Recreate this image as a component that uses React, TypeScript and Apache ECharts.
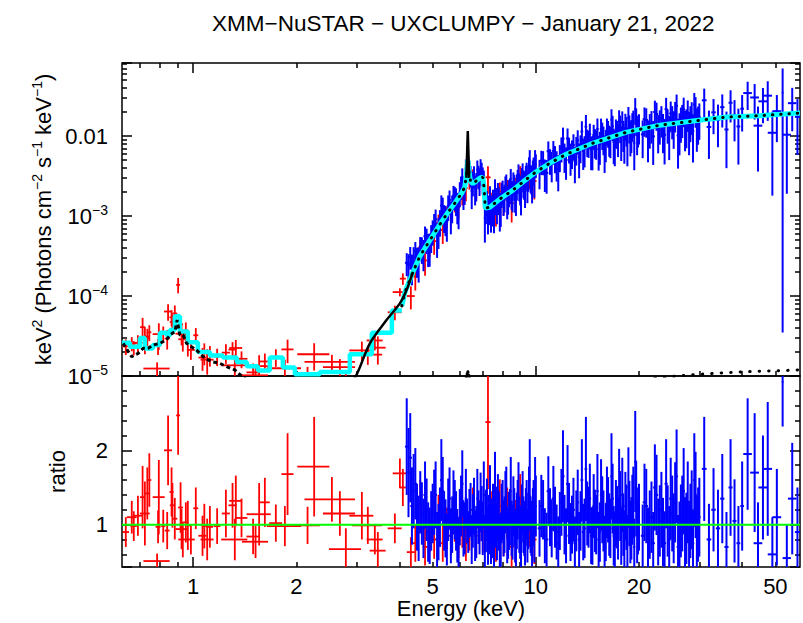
import React, { useEffect, useRef } from 'react';
import * as echarts from 'echarts';

const FONT = '"Liberation Sans", Arial, Helvetica, sans-serif';
const X_MIN = 0.62;
const X_MAX = 59;
const Y_MIN = 1e-5;
const Y_MAX = 0.082;
const R_MIN = 0.43;
const R_MAX = 3.0;

const titleText = 'XMM\u2212NuSTAR \u2212 UXCLUMPY \u2212 January 21, 2022';
const xLabelValues = [1, 2, 5, 10, 20, 50];
const xMajorTicks = [1, 10];

// ---------- XMM (red) spectrum ----------
const xmmE = [0.636, 0.662, 0.671, 0.690, 0.712, 0.723, 0.735, 0.745, 0.785, 0.790, 0.794, 0.818, 0.840, 0.845, 0.865, 0.870, 0.884, 0.904, 0.919, 0.925, 0.933, 0.952, 0.965, 0.985, 1.018, 1.065, 1.078, 1.099, 1.119, 1.175, 1.246, 1.303, 1.323, 1.332, 1.384, 1.496, 1.521, 1.558, 1.619, 1.743, 1.852, 1.886, 2.157, 2.255, 2.540, 2.680, 2.790, 3.107, 3.234, 3.390, 3.459, 3.878, 4.011, 4.092, 4.318,
  4.45, 4.60, 4.75, 4.90, 5.05, 5.20, 5.35, 5.50, 5.65, 5.80, 5.95, 6.10, 6.25, 6.40, 6.55, 6.70, 6.85, 7.00, 7.25, 7.45, 7.65, 7.85, 8.05, 8.25, 8.50, 8.75, 9.00, 9.30, 9.60, 9.90];
const xmmDE = [0.014, 0.022, 0.014, 0.023, 0.012, 0.024, 0.010, 0.010, 0.069, 0.013, 0.032, 0.011, 0.014, 0.023, 0.012, 0.015, 0.015, 0.012, 0.015, 0.037, 0.028, 0.016, 0.016, 0.026, 0.017, 0.029, 0.018, 0.048, 0.025, 0.026, 0.034, 0.035, 0.116, 0.058, 0.056, 0.065, 0.133, 0.126, 0.054, 0.076, 0.212, 0.076, 0.188, 0.242, 0.427, 0.288, 0.300, 0.251, 0.326, 0.182, 0.186, 0.182, 0.189, 0.083, 0.116,
  0.075, 0.075, 0.075, 0.075, 0.075, 0.075, 0.075, 0.075, 0.075, 0.075, 0.075, 0.075, 0.075, 0.075, 0.075, 0.075, 0.075, 0.075, 0.125, 0.100, 0.100, 0.100, 0.100, 0.100, 0.125, 0.125, 0.125, 0.150, 0.150, 0.150];
const xmmFlux = [2.35e-5, 2.55e-5, 2.27e-5, 2.60e-5, 4.08e-5, 2.99e-5, 3.12e-5, 3.52e-5, 1.24e-5, 2.37e-5, 3.34e-5, 3.40e-5, 2.94e-5, 6.40e-5, 5.41e-5, 4.74e-5, 6.05e-5, 1.38e-4, 4.43e-5, 3.38e-5, 2.88e-5, 3.71e-5, 2.62e-5, 2.12e-5, 3.23e-5, 1.70e-5, 1.96e-5, 1.60e-5, 1.84e-5, 1.76e-5, 1.96e-5, 2.14e-5, 1.36e-5, 2.24e-5, 1.64e-5, 1.11e-5, 1.02e-5, 1.33e-5, 1.52e-5, 1.73e-5, 1.25e-5, 2.15e-5, 1.04e-5, 1.87e-5, 1.50e-5, 1.29e-5, 7.5e-6, 2.09e-5, 1.85e-5, 2.78e-5, 2.26e-5, 6.27e-5, 1.12e-4, 1.65e-4, 1.00e-4,
  1.75e-4, 3.98e-4, 2.79e-4, 4.44e-4, 4.86e-4, 8.20e-4, 6.70e-4, 1.01e-3, 1.05e-3, 1.52e-3, 1.36e-3, 1.87e-3, 2.25e-3, 2.97e-3, 3.06e-3, 2.34e-3, 3.10e-3, 2.78e-3, 3.05e-3, 1.49e-3, 1.18e-3, 2.04e-3, 1.58e-3, 2.17e-3, 1.45e-3, 2.27e-3, 3.26e-3, 2.38e-3, 3.26e-3, 2.74e-3];
const xmmFluxErr = [5.2e-6, 5.1e-6, 4.6e-6, 6.3e-6, 1.25e-5, 1.12e-5, 7.7e-6, 7.9e-6, 2.4e-6, 5.4e-6, 1.22e-5, 7.6e-6, 8.0e-6, 1.50e-5, 1.24e-5, 1.13e-5, 1.57e-5, 3.0e-5, 1.22e-5, 9.7e-6, 8.6e-6, 9.7e-6, 8.7e-6, 5.3e-6, 7.4e-6, 5.4e-6, 6.0e-6, 5.6e-6, 5.3e-6, 4.3e-6, 5.4e-6, 5.1e-6, 4.8e-6, 5.8e-6, 3.9e-6, 3.2e-6, 2.9e-6, 4.9e-6, 3.9e-6, 4.3e-6, 3.5e-6, 7.0e-6, 2.6e-6, 7.0e-6, 3.4e-6, 3.4e-6, 3.1e-6, 6.0e-6, 4.7e-6, 6.9e-6, 8.7e-6, 1.3e-5, 1.3e-5, 2.7e-5, 3.2e-5,
  5.8e-5, 1.11e-4, 1.00e-4, 1.33e-4, 1.58e-4, 2.24e-4, 2.23e-4, 2.97e-4, 3.20e-4, 4.10e-4, 4.25e-4, 5.10e-4, 7.20e-4, 8.30e-4, 7.70e-4, 7.20e-4, 8.30e-4, 8.70e-4, 1.15e-3, 4.70e-4, 4.40e-4, 5.90e-4, 5.60e-4, 6.60e-4, 6.20e-4, 7.50e-4, 9.50e-4, 9.00e-4, 1.09e-3, 1.13e-3];
const xmmRatio = [0.90, 1.10, 0.98, 1.12, 1.37, 1.15, 1.42, 1.60, 0.51, 0.97, 1.37, 0.98, 0.92, 2.00, 1.44, 1.26, 1.08, 2.47, 1.23, 0.94, 0.80, 1.03, 0.99, 0.80, 1.22, 0.85, 0.98, 0.80, 0.97, 0.98, 1.15, 1.26, 0.80, 1.32, 1.09, 0.84, 0.77, 1.14, 1.30, 1.02, 0.98, 1.68, 0.99, 1.78, 1.34, 1.15, 0.67, 1.12, 0.99, 0.80, 0.65, 0.95, 1.69, 1.50, 0.63,
  0.75, 1.25, 0.70, 0.90, 0.80, 1.10, 0.75, 0.95, 0.85, 1.05, 0.80, 0.95, 0.75, 0.90, 1.20, 0.85, 1.05, 0.90, 2.38, 1.10, 0.80, 1.25, 0.90, 1.15, 0.70, 1.00, 1.30, 0.85, 1.05, 0.80];
const xmmRatioErr = [0.20, 0.22, 0.20, 0.27, 0.42, 0.43, 0.35, 0.36, 0.10, 0.22, 0.50, 0.22, 0.25, 0.47, 0.33, 0.30, 0.28, 0.53, 0.34, 0.27, 0.24, 0.27, 0.33, 0.20, 0.28, 0.27, 0.30, 0.28, 0.28, 0.24, 0.32, 0.30, 0.28, 0.34, 0.26, 0.24, 0.22, 0.42, 0.33, 0.25, 0.27, 0.55, 0.25, 0.67, 0.30, 0.30, 0.28, 0.32, 0.25, 0.20, 0.25, 0.20, 0.20, 0.25, 0.20,
  0.25, 0.35, 0.25, 0.27, 0.26, 0.30, 0.25, 0.28, 0.26, 0.28, 0.25, 0.26, 0.24, 0.25, 0.30, 0.26, 0.28, 0.28, 0.90, 0.35, 0.30, 0.36, 0.32, 0.35, 0.30, 0.33, 0.38, 0.32, 0.35, 0.33];

// ---------- NuSTAR FPMA (blue) spectrum ----------
const nuE = [4.2, 4.3, 4.4, 4.5, 4.6, 4.7, 4.8, 4.9, 5.0, 5.1, 5.2, 5.3, 5.4, 5.5, 5.6, 5.7, 5.8, 5.9, 6.0, 6.1, 6.2, 6.3, 6.4, 6.5, 6.6, 6.7, 6.8, 6.9, 7.0, 7.1, 7.2, 7.3, 7.4, 7.5, 7.6, 7.7, 7.8, 7.9, 8.0, 8.1, 8.2, 8.3, 8.4, 8.5, 8.6, 8.7, 8.8, 8.9, 9.0, 9.1, 9.2, 9.3, 9.4, 9.5, 9.6, 9.7, 9.8, 9.9, 10.0,
  10.25, 10.5, 10.75, 11.0, 11.25, 11.5, 11.75, 12.0, 12.25, 12.5, 12.75, 13.0, 13.25, 13.5, 13.75, 14.0, 14.25, 14.5, 14.75, 15.0, 15.25, 15.5, 15.75, 16.0, 16.25, 16.5, 16.75, 17.0, 17.25, 17.5, 17.75, 18.0, 18.25, 18.5, 18.75, 19.0, 19.25, 19.5, 19.75, 20.0,
  20.5, 21, 21.5, 22, 22.5, 23, 23.5, 24, 24.5, 25, 25.5, 26, 26.5, 27, 27.5, 28, 28.5, 29, 29.5, 30,
  31, 32, 33, 34, 35, 36, 37, 38, 39, 40,
  41.5, 43.5, 44.5, 46, 47.5, 49, 50.5, 52.5, 54, 56, 58];
const nuDE = [0.05, 0.05, 0.05, 0.05, 0.05, 0.05, 0.05, 0.05, 0.05, 0.05, 0.05, 0.05, 0.05, 0.05, 0.05, 0.05, 0.05, 0.05, 0.05, 0.05, 0.05, 0.05, 0.05, 0.05, 0.05, 0.05, 0.05, 0.05, 0.05, 0.05, 0.05, 0.05, 0.05, 0.05, 0.05, 0.05, 0.05, 0.05, 0.05, 0.05, 0.05, 0.05, 0.05, 0.05, 0.05, 0.05, 0.05, 0.05, 0.05, 0.05, 0.05, 0.05, 0.05, 0.05, 0.05, 0.05, 0.05, 0.05, 0.05,
  0.125, 0.125, 0.125, 0.125, 0.125, 0.125, 0.125, 0.125, 0.125, 0.125, 0.125, 0.125, 0.125, 0.125, 0.125, 0.125, 0.125, 0.125, 0.125, 0.125, 0.125, 0.125, 0.125, 0.125, 0.125, 0.125, 0.125, 0.125, 0.125, 0.125, 0.125, 0.125, 0.125, 0.125, 0.125, 0.125, 0.125, 0.125, 0.125, 0.125,
  0.25, 0.25, 0.25, 0.25, 0.25, 0.25, 0.25, 0.25, 0.25, 0.25, 0.25, 0.25, 0.25, 0.25, 0.25, 0.25, 0.25, 0.25, 0.25, 0.25,
  0.5, 0.5, 0.5, 0.5, 0.5, 0.5, 0.5, 0.5, 0.5, 0.5,
  1.2, 1.3, 1.3, 1.4, 1.4, 1.5, 1.5, 0.3, 1.5, 1.6, 1.0];
const nuFlux = [2.60e-4, 3.12e-4, 3.03e-4, 2.86e-4, 4.13e-4, 3.53e-4, 5.15e-4, 4.19e-4, 6.54e-4, 9.13e-4, 6.71e-4, 1.35e-3, 9.91e-4, 8.48e-4, 1.59e-3, 1.31e-3, 1.74e-3, 1.37e-3, 1.97e-3, 3.05e-3, 2.19e-3, 4.52e-3, 3.80e-3, 2.08e-3, 3.21e-3, 2.48e-3, 3.21e-3, 3.93e-3, 2.94e-3, 9.45e-4, 1.52e-3, 1.29e-3, 1.13e-3, 1.59e-3, 2.18e-3, 1.36e-3, 1.66e-3, 1.33e-3, 2.08e-3, 1.79e-3, 2.51e-3, 1.73e-3, 2.19e-3, 1.97e-3, 2.66e-3, 1.90e-3, 2.44e-3, 3.37e-3, 2.26e-3, 2.99e-3, 2.70e-3, 2.24e-3, 3.48e-3, 3.15e-3, 4.96e-3, 3.05e-3, 3.65e-3, 2.92e-3, 4.44e-3,
  3.60e-3, 4.86e-3, 3.46e-3, 5.06e-3, 6.53e-3, 4.58e-3, 5.63e-3, 9.27e-3, 5.02e-3, 7.05e-3, 6.35e-3, 4.94e-3, 8.84e-3, 7.38e-3, 6.53e-3, 1.31e-2, 8.50e-3, 6.78e-3, 1.03e-2, 8.41e-3, 6.89e-3, 1.23e-2, 9.46e-3, 8.29e-3, 1.13e-2, 9.14e-3, 1.33e-2, 8.00e-3, 1.12e-2, 1.56e-2, 9.01e-3, 1.09e-2, 1.39e-2, 8.48e-3, 1.31e-2, 1.10e-2, 1.52e-2, 2.18e-2, 1.08e-2, 1.33e-2,
  1.05e-2, 1.59e-2, 1.29e-2, 9.90e-3, 1.89e-2, 1.44e-2, 1.25e-2, 2.17e-2, 1.14e-2, 1.64e-2, 1.89e-2, 1.02e-2, 1.55e-2, 2.16e-2, 1.43e-2, 1.29e-2, 1.84e-2, 2.48e-2, 1.40e-2, 1.73e-2,
  2.80e-2, 1.30e-2, 1.98e-2, 1.60e-2, 2.30e-2, 1.21e-2, 2.61e-2, 1.84e-2, 1.32e-2, 2.20e-2,
  3.45e-2, 3.04e-2, 1.35e-2, 2.72e-2, 3.20e-2, 1.10e-2, 2.05e-2, 3.50e-2, 1.04e-2, 2.58e-2, 1.74e-2];
const nuFluxErr = [8.3e-5, 9.8e-5, 1.05e-4, 1.17e-4, 1.34e-4, 1.49e-4, 1.80e-4, 1.87e-4, 2.28e-4, 2.93e-4, 2.83e-4, 4.63e-4, 3.78e-4, 3.71e-4, 4.96e-4, 4.98e-4, 5.8e-4, 5.8e-4, 6.8e-4, 8.9e-4, 8.1e-4, 1.29e-3, 1.09e-3, 8.6e-4, 9.8e-4, 9.6e-4, 1.05e-3, 1.21e-3, 1.11e-3, 4.8e-4, 5.3e-4, 5.2e-4, 5.1e-4, 5.5e-4, 7.0e-4, 5.7e-4, 6.3e-4, 6.0e-4, 6.9e-4, 6.8e-4, 8.0e-4, 6.9e-4, 7.6e-4, 7.7e-4, 8.5e-4, 8.0e-4, 8.8e-4, 1.06e-3, 9.0e-4, 1.01e-3, 1.03e-3, 9.8e-4, 1.16e-3, 1.14e-3, 1.71e-3, 1.19e-3, 1.29e-3, 1.23e-3, 1.46e-3,
  1.44e-3, 1.62e-3, 1.56e-3, 1.79e-3, 2.13e-3, 1.88e-3, 2.09e-3, 3.48e-3, 2.18e-3, 2.51e-3, 2.48e-3, 2.37e-3, 2.99e-3, 2.81e-3, 2.76e-3, 5.25e-3, 3.17e-3, 3.03e-3, 3.53e-3, 3.36e-3, 3.19e-3, 4.23e-3, 3.69e-3, 3.59e-3, 4.14e-3, 3.85e-3, 4.62e-3, 3.80e-3, 4.28e-3, 5.41e-3, 4.13e-3, 4.58e-3, 5.11e-3, 4.29e-3, 5.02e-3, 4.87e-3, 5.62e-3, 8.02e-3, 5.04e-3, 5.45e-3,
  5.21e-3, 6.35e-3, 5.93e-3, 5.54e-3, 7.29e-3, 6.58e-3, 6.39e-3, 8.40e-3, 6.39e-3, 7.29e-3, 7.83e-3, 6.28e-3, 7.25e-3, 8.64e-3, 7.25e-3, 7.14e-3, 8.11e-3, 9.77e-3, 7.64e-3, 8.32e-3,
  1.12e-2, 7.82e-3, 9.24e-3, 8.74e-3, 1.02e-2, 8.13e-3, 1.13e-2, 9.80e-3, 8.80e-3, 1.06e-2,
  1.33e-2, 1.43e-2, 9.9e-3, 1.27e-2, 1.65e-2, 9.2e-3, 1.21e-2, 3.50e-2, 8.5e-3, 1.43e-2, 1.16e-2];
const nuRatio = [2.05, 1.90, 1.45, 1.10, 1.30, 0.95, 1.20, 0.85, 1.15, 1.40, 0.90, 1.60, 1.05, 0.80, 1.35, 1.00, 1.20, 0.85, 1.10, 1.55, 0.95, 1.05, 1.15, 0.80, 1.25, 0.90, 1.10, 1.30, 0.95, 0.75, 1.20, 1.00, 0.85, 1.15, 1.50, 0.90, 1.05, 0.80, 1.20, 1.00, 1.35, 0.90, 1.10, 0.95, 1.25, 0.85, 1.05, 1.40, 0.90, 1.15, 1.00, 0.80, 1.20, 1.05, 1.60, 0.95, 1.10, 0.85, 1.25,
  0.95, 1.20, 0.80, 1.10, 1.35, 0.90, 1.05, 1.65, 0.85, 1.15, 1.00, 0.75, 1.30, 1.05, 0.90, 1.75, 1.10, 0.85, 1.25, 1.00, 0.80, 1.40, 1.05, 0.90, 1.20, 0.95, 1.35, 0.80, 1.10, 1.50, 0.85, 1.00, 1.25, 0.75, 1.15, 0.95, 1.30, 1.85, 0.90, 1.10,
  0.85, 1.25, 1.00, 0.75, 1.40, 1.05, 0.90, 1.55, 0.80, 1.15, 1.30, 0.70, 1.05, 1.45, 0.95, 0.85, 1.20, 1.60, 0.90, 1.10,
  1.75, 0.80, 1.20, 0.95, 1.35, 0.70, 1.50, 1.05, 0.75, 1.25,
  1.95, 1.70, 0.75, 1.50, 1.75, 0.60, 1.10, 2.92, 0.55, 1.35, 0.90];
const nuRatioErr = [0.65, 0.60, 0.50, 0.45, 0.42, 0.40, 0.42, 0.38, 0.40, 0.45, 0.38, 0.55, 0.40, 0.35, 0.42, 0.38, 0.40, 0.36, 0.38, 0.45, 0.35, 0.30, 0.33, 0.33, 0.38, 0.35, 0.36, 0.40, 0.36, 0.38, 0.42, 0.40, 0.38, 0.40, 0.48, 0.38, 0.40, 0.36, 0.40, 0.38, 0.43, 0.36, 0.38, 0.37, 0.40, 0.36, 0.38, 0.44, 0.36, 0.39, 0.38, 0.35, 0.40, 0.38, 0.55, 0.37, 0.39, 0.36, 0.41,
  0.38, 0.40, 0.36, 0.39, 0.44, 0.37, 0.39, 0.62, 0.37, 0.41, 0.39, 0.36, 0.44, 0.40, 0.38, 0.70, 0.41, 0.38, 0.43, 0.40, 0.37, 0.48, 0.41, 0.39, 0.44, 0.40, 0.47, 0.38, 0.42, 0.52, 0.39, 0.42, 0.46, 0.38, 0.44, 0.42, 0.48, 0.68, 0.42, 0.45,
  0.42, 0.50, 0.46, 0.42, 0.54, 0.48, 0.46, 0.60, 0.45, 0.51, 0.54, 0.43, 0.49, 0.58, 0.48, 0.47, 0.53, 0.63, 0.49, 0.53,
  0.70, 0.48, 0.56, 0.52, 0.60, 0.47, 0.65, 0.56, 0.50, 0.60,
  0.75, 0.80, 0.55, 0.70, 0.90, 0.50, 0.65, 0.60, 0.45, 0.75, 0.60];

// ---------- NuSTAR FPMB (blue) spectrum ----------
const nubE = [4.25, 4.35, 4.45, 4.55, 4.65, 4.75, 4.85, 4.95, 5.05, 5.15, 5.25, 5.35, 5.45, 5.55, 5.65, 5.75, 5.85, 5.95, 6.05, 6.15, 6.25, 6.35, 6.45, 6.55, 6.65, 6.75, 6.85, 6.95, 7.05, 7.15, 7.25, 7.35, 7.45, 7.55, 7.65, 7.75, 7.85, 7.95, 8.05, 8.15, 8.25, 8.35, 8.45, 8.55, 8.65, 8.75, 8.85, 8.95, 9.05, 9.15, 9.25, 9.35, 9.45, 9.55, 9.65, 9.75, 9.85, 9.95,
  10.375, 10.625, 10.875, 11.125, 11.375, 11.625, 11.875, 12.125, 12.375, 12.625, 12.875, 13.125, 13.375, 13.625, 13.875, 14.125, 14.375, 14.625, 14.875, 15.125, 15.375, 15.625, 15.875, 16.125, 16.375, 16.625, 16.875, 17.125, 17.375, 17.625, 17.875, 18.125, 18.375, 18.625, 18.875, 19.125, 19.375, 19.625, 19.875,
  20.75, 21.25, 21.75, 22.25, 22.75, 23.25, 23.75, 24.25, 24.75, 25.25, 25.75, 26.25, 26.75, 27.25, 27.75, 28.25, 28.75, 29.25, 29.75];
const nubDE = [0.05, 0.05, 0.05, 0.05, 0.05, 0.05, 0.05, 0.05, 0.05, 0.05, 0.05, 0.05, 0.05, 0.05, 0.05, 0.05, 0.05, 0.05, 0.05, 0.05, 0.05, 0.05, 0.05, 0.05, 0.05, 0.05, 0.05, 0.05, 0.05, 0.05, 0.05, 0.05, 0.05, 0.05, 0.05, 0.05, 0.05, 0.05, 0.05, 0.05, 0.05, 0.05, 0.05, 0.05, 0.05, 0.05, 0.05, 0.05, 0.05, 0.05, 0.05, 0.05, 0.05, 0.05, 0.05, 0.05, 0.05, 0.05,
  0.125, 0.125, 0.125, 0.125, 0.125, 0.125, 0.125, 0.125, 0.125, 0.125, 0.125, 0.125, 0.125, 0.125, 0.125, 0.125, 0.125, 0.125, 0.125, 0.125, 0.125, 0.125, 0.125, 0.125, 0.125, 0.125, 0.125, 0.125, 0.125, 0.125, 0.125, 0.125, 0.125, 0.125, 0.125, 0.125, 0.125, 0.125, 0.125,
  0.25, 0.25, 0.25, 0.25, 0.25, 0.25, 0.25, 0.25, 0.25, 0.25, 0.25, 0.25, 0.25, 0.25, 0.25, 0.25, 0.25, 0.25, 0.25];
const nubFlux = [2.47e-4, 2.33e-4, 3.61e-4, 2.74e-4, 3.97e-4, 5.60e-4, 4.14e-4, 5.57e-4, 7.93e-4, 5.58e-4, 8.69e-4, 1.29e-3, 9.50e-4, 1.34e-3, 1.05e-3, 1.79e-3, 1.61e-3, 1.28e-3, 2.35e-3, 1.98e-3, 3.92e-3, 4.14e-3, 3.24e-3, 2.68e-3, 2.26e-3, 3.82e-3, 2.82e-3, 3.51e-3, 2.80e-3, 1.32e-3, 1.09e-3, 1.77e-3, 1.28e-3, 1.13e-3, 1.63e-3, 1.93e-3, 1.22e-3, 1.94e-3, 1.67e-3, 2.37e-3, 1.61e-3, 2.05e-3, 2.94e-3, 1.89e-3, 2.40e-3, 1.82e-3, 2.83e-3, 2.46e-3, 1.91e-3, 3.45e-3, 2.61e-3, 3.14e-3, 2.51e-3, 4.12e-3, 3.15e-3, 2.61e-3, 4.04e-3, 5.06e-3,
  4.90e-3, 3.55e-3, 6.47e-3, 4.48e-3, 5.46e-3, 3.92e-3, 7.14e-3, 5.76e-3, 9.32e-3, 5.62e-3, 7.75e-3, 7.02e-3, 5.53e-3, 1.14e-2, 7.01e-3, 8.75e-3, 1.06e-2, 6.89e-3, 8.73e-3, 1.23e-2, 7.84e-3, 1.07e-2, 6.83e-3, 1.21e-2, 9.52e-3, 1.60e-2, 8.42e-3, 1.16e-2, 9.79e-3, 1.31e-2, 1.50e-2, 8.80e-3, 1.23e-2, 1.70e-2, 1.04e-2, 1.39e-2, 8.19e-3, 1.61e-2, 1.26e-2,
  1.63e-2, 1.02e-2, 1.43e-2, 2.00e-2, 1.22e-2, 1.66e-2, 1.04e-2, 1.48e-2, 1.92e-2, 1.37e-2, 2.39e-2, 1.25e-2, 1.70e-2, 1.35e-2, 1.96e-2, 1.60e-2, 1.16e-2, 2.17e-2, 1.56e-2];
const nubFluxErr = [8.7e-5, 9.7e-5, 1.12e-4, 1.27e-4, 1.45e-4, 1.80e-4, 1.84e-4, 2.12e-4, 2.68e-4, 2.58e-4, 3.16e-4, 4.09e-4, 3.90e-4, 4.70e-4, 4.59e-4, 5.93e-4, 6.12e-4, 5.95e-4, 7.71e-4, 7.90e-4, 1.16e-3, 1.29e-3, 9.70e-4, 9.20e-4, 9.00e-4, 1.13e-3, 1.04e-3, 1.13e-3, 9.00e-4, 5.30e-4, 5.00e-4, 5.90e-4, 5.40e-4, 5.20e-4, 6.10e-4, 6.60e-4, 5.80e-4, 6.80e-4, 6.70e-4, 7.60e-4, 7.00e-4, 7.60e-4, 9.30e-4, 7.80e-4, 8.50e-4, 8.20e-4, 9.40e-4, 9.30e-4, 8.90e-4, 1.11e-3, 1.02e-3, 1.11e-3, 1.06e-3, 1.31e-3, 1.20e-3, 1.17e-3, 1.35e-3, 1.61e-3,
  1.65e-3, 1.55e-3, 2.10e-3, 1.84e-3, 2.03e-3, 1.88e-3, 2.47e-3, 2.30e-3, 3.13e-3, 2.43e-3, 2.78e-3, 2.74e-3, 2.56e-3, 3.93e-3, 2.95e-3, 3.27e-3, 3.69e-3, 3.16e-3, 3.49e-3, 4.26e-3, 3.48e-3, 4.01e-3, 3.37e-3, 4.47e-3, 4.00e-3, 5.64e-3, 3.96e-3, 4.55e-3, 4.33e-3, 4.94e-3, 5.35e-3, 4.29e-3, 4.93e-3, 6.10e-3, 4.83e-3, 5.45e-3, 4.45e-3, 6.07e-3, 5.40e-3,
  6.50e-3, 5.50e-3, 6.24e-3, 7.71e-3, 6.12e-3, 7.04e-3, 5.98e-3, 6.77e-3, 7.81e-3, 6.77e-3, 9.14e-3, 6.76e-3, 7.55e-3, 7.05e-3, 8.31e-3, 7.60e-3, 6.93e-3, 8.99e-3, 7.80e-3];
const nubRatio = [1.70, 1.25, 1.55, 0.95, 1.15, 1.40, 0.90, 1.05, 1.30, 0.80, 1.10, 1.45, 0.95, 1.20, 0.85, 1.30, 1.05, 0.75, 1.25, 0.95, 1.35, 0.90, 1.20, 1.05, 0.85, 1.35, 0.95, 1.15, 1.40, 1.05, 0.85, 1.35, 0.95, 0.80, 1.10, 1.25, 0.75, 1.15, 0.95, 1.30, 0.85, 1.05, 1.45, 0.90, 1.10, 0.80, 1.20, 1.00, 0.75, 1.30, 0.95, 1.10, 0.85, 1.35, 1.00, 0.80, 1.20, 1.45,
  1.25, 0.85, 1.45, 0.95, 1.10, 0.75, 1.30, 1.00, 1.55, 0.90, 1.20, 1.05, 0.80, 1.60, 0.95, 1.15, 1.35, 0.85, 1.05, 1.45, 0.90, 1.20, 0.75, 1.30, 1.00, 1.65, 0.85, 1.15, 0.95, 1.25, 1.40, 0.80, 1.10, 1.50, 0.90, 1.20, 0.70, 1.35, 1.05,
  1.30, 0.80, 1.10, 1.50, 0.90, 1.20, 0.75, 1.05, 1.35, 0.95, 1.65, 0.85, 1.15, 0.90, 1.30, 1.05, 0.75, 1.40, 1.00];
const nubRatioErr = [0.60, 0.52, 0.48, 0.44, 0.42, 0.45, 0.40, 0.40, 0.44, 0.37, 0.40, 0.46, 0.39, 0.42, 0.37, 0.43, 0.40, 0.35, 0.41, 0.38, 0.40, 0.28, 0.36, 0.36, 0.34, 0.40, 0.35, 0.37, 0.45, 0.42, 0.39, 0.45, 0.40, 0.37, 0.41, 0.43, 0.36, 0.40, 0.38, 0.42, 0.37, 0.39, 0.46, 0.37, 0.39, 0.36, 0.40, 0.38, 0.35, 0.42, 0.37, 0.39, 0.36, 0.43, 0.38, 0.36, 0.40, 0.46,
  0.42, 0.37, 0.47, 0.39, 0.41, 0.36, 0.45, 0.40, 0.52, 0.39, 0.43, 0.41, 0.37, 0.55, 0.40, 0.43, 0.47, 0.39, 0.42, 0.50, 0.40, 0.45, 0.37, 0.48, 0.42, 0.58, 0.40, 0.45, 0.42, 0.47, 0.50, 0.39, 0.44, 0.54, 0.42, 0.47, 0.38, 0.51, 0.45,
  0.52, 0.43, 0.48, 0.58, 0.45, 0.51, 0.43, 0.48, 0.55, 0.47, 0.63, 0.46, 0.51, 0.47, 0.55, 0.50, 0.45, 0.58, 0.50];

// ---------- Models ----------
// folded total model on the XMM binning (bin edges and levels)
const cyanStepE = [0.62, 0.6537, 0.6992, 0.7230, 0.7629, 0.7994, 0.8381, 0.8551, 0.8844, 0.9145, 0.9649, 1.032, 1.119, 1.221, 1.341, 1.434, 1.545, 1.674, 1.827, 1.981, 2.343, 2.866, 3.323, 3.801, 4.064];
const cyanStepF = [2.61e-5, 2.32e-5, 2.98e-5, 2.2e-5, 2.44e-5, 3.47e-5, 3.2e-5, 3.76e-5, 5.6e-5, 3.6e-5, 2.65e-5, 2.0e-5, 1.8e-5, 1.7e-5, 1.5e-5, 1.32e-5, 1.17e-5, 1.7e-5, 1.28e-5, 1.05e-5, 1.12e-5, 1.87e-5, 3.47e-5, 6.6e-5, 6.6e-5];
// total model at high energy
const cyanE = [4.064, 4.15, 4.38, 4.59, 4.91, 5.25, 5.50, 5.80, 6.08, 6.20, 6.27, 6.33, 6.38, 6.45, 6.55, 6.70, 6.87, 7.00, 7.06, 7.12, 7.34, 7.85, 8.57, 9.16, 10.0, 11.0, 12.3, 14.7, 18.4, 23.0, 28.7, 36.1, 45.1, 59.0];
const cyanF = [7.5e-5, 1.12e-4, 2.0e-4, 3.16e-4, 5.0e-4, 7.9e-4, 1.06e-3, 1.45e-3, 1.94e-3, 2.3e-3, 3.2e-3, 5.0e-3, 3.6e-3, 2.7e-3, 2.55e-3, 2.75e-3, 2.99e-3, 3.07e-3, 2.3e-3, 1.26e-3, 1.29e-3, 1.63e-3, 2.11e-3, 2.66e-3, 3.55e-3, 4.6e-3, 5.96e-3, 8.18e-3, 1.12e-2, 1.37e-2, 1.54e-2, 1.73e-2, 1.80e-2, 1.94e-2];
// soft component (dotted)
const softE = [0.6248, 0.6613, 0.6912, 0.7147, 0.7391, 0.7642, 0.7994, 0.8364, 0.8551, 0.8844, 0.8982, 0.9145, 0.9350, 0.9566, 0.9893, 1.023, 1.069, 1.131, 1.196, 1.252, 1.323, 1.384, 1.431];
const softF = [2.56e-5, 1.74e-5, 1.92e-5, 2.22e-5, 2.22e-5, 2.44e-5, 2.56e-5, 2.82e-5, 3.25e-5, 3.58e-5, 5.0e-5, 3.25e-5, 3.25e-5, 2.56e-5, 2.32e-5, 2.11e-5, 1.74e-5, 1.51e-5, 1.44e-5, 1.31e-5, 1.19e-5, 1.0e-5, 8.9e-6];
// absorbed torus component (solid)
const torusE = [2.77, 2.985, 3.279, 3.667, 4.011, 4.196, 4.38];
const torusF = [6.7e-6, 1.0e-5, 2.56e-5, 5.0e-5, 8.1e-5, 1.19e-4, 2.0e-4];
const fekE = [6.27, 6.33, 6.39];
const fekF = [3.0e-3, 1.16e-2, 3.0e-3];
// weak components near the bottom (dotted)
const reflE = [22.25, 26.32, 30.1, 35.6, 42.1, 49.8, 58.9];
const reflF = [9.4e-6, 1.01e-5, 1.05e-5, 1.10e-5, 1.135e-5, 1.16e-5, 1.19e-5];
const weakLineE = [6.15, 6.27, 6.33, 6.39, 6.5];
const weakLineF = [8.0e-6, 9.6e-6, 1.15e-5, 9.6e-6, 8.0e-6];
// unity line in the ratio panel
const unityE = [X_MIN, X_MAX];
const unityR = [1, 1];

const pairs = (a: number[], b: number[]) => a.map((v, i) => [v, b[i]]);
const rows = (e: number[], v: number[], de: number[], dv: number[]) => e.map((x, i) => [x, v[i], de[i], dv[i]]);

function crossRenderer(color: string, width: number, logY: boolean) {
  return (params: any, api: any) => {
    const cs = params.coordSys;
    const x0 = cs.x, x1 = cs.x + cs.width, y0 = cs.y, y1 = cs.y + cs.height;
    const e = api.value(0), v = api.value(1), de = api.value(2), dv = api.value(3);
    const lo = logY ? Math.max(v - dv, v * 1e-3) : v - dv;
    const c = api.coord([e, v]);
    const pl = api.coord([Math.max(e - de, e * 0.5), v]);
    const pr = api.coord([e + de, v]);
    const pt = api.coord([e, v + dv]);
    const pb = api.coord([e, lo]);
    const style = { stroke: color, lineWidth: width, fill: null };
    const children: any[] = [];
    const ty = Math.max(pt[1], y0);
    const by = Math.min(pb[1], y1);
    if (c[0] >= x0 && c[0] <= x1 && ty < by) {
      children.push({ type: 'line', shape: { x1: c[0], y1: ty, x2: c[0], y2: by }, style });
    }
    if (c[1] >= y0 && c[1] <= y1) {
      const lx = Math.max(pl[0], x0);
      const rx = Math.min(pr[0], x1);
      if (lx < rx) children.push({ type: 'line', shape: { x1: lx, y1: c[1], x2: rx, y2: c[1] }, style });
    }
    return { type: 'group', children };
  };
}

const tickLine = { color: '#000', width: 1.5 };

function xLogAxis(gridIndex: number, position: string, labels: boolean, name?: string) {
  return {
    type: 'log', logBase: 10, gridIndex, position, min: X_MIN, max: X_MAX,
    axisLine: { show: false },
    axisTick: { show: true, inside: true, length: 10, lineStyle: tickLine, customValues: xMajorTicks },
    minorTick: { show: true, splitNumber: 9, length: 5, lineStyle: tickLine },
    splitLine: { show: false }, minorSplitLine: { show: false },
    axisLabel: labels
      ? { show: true, customValues: xLabelValues, formatter: (v: number) => String(Math.round(v)), color: '#000', fontSize: 22, fontFamily: FONT, margin: 8 }
      : { show: false },
    name: name || '', nameLocation: 'middle', nameGap: 30,
    nameTextStyle: { color: '#000', fontSize: 22, fontFamily: FONT },
  };
}

const supRich = {
  b: { fontSize: 22, fontFamily: FONT, color: '#000', lineHeight: 26 },
  s: { fontSize: 14, fontFamily: FONT, color: '#000', lineHeight: 15, verticalAlign: 'top' },
};

function fluxLabel(v: number) {
  const p = Math.round(Math.log10(v));
  if (p === -2) return '{b|0.01}';
  return '{b|10}{s|\u2212' + String(-p) + '}';
}

function yLogAxis(position: string, labels: boolean) {
  return {
    type: 'log', logBase: 10, gridIndex: 0, position, min: Y_MIN, max: Y_MAX,
    axisLine: { show: false },
    axisTick: { show: true, inside: true, length: 10, lineStyle: tickLine },
    minorTick: { show: true, splitNumber: 9, length: 5, lineStyle: tickLine },
    splitLine: { show: false }, minorSplitLine: { show: false },
    axisLabel: labels
      ? { show: true, formatter: fluxLabel, rich: supRich, showMaxLabel: false, showMinLabel: true, margin: 14, align: 'right' }
      : { show: false },
    name: labels ? '{a|keV}{s|2}{a| (Photons cm}{s|\u22122}{a| s}{s|\u22121}{a| keV}{s|\u22121}{a|)}' : '',
    nameLocation: 'middle', nameGap: 54, nameRotate: 90,
    nameTextStyle: {
      rich: {
        a: { fontSize: 22, fontFamily: FONT, color: '#000', lineHeight: 26 },
        s: { fontSize: 14, fontFamily: FONT, color: '#000', lineHeight: 15, verticalAlign: 'top' },
      },
    },
  };
}

function yRatioAxis(position: string, labels: boolean) {
  return {
    type: 'value', gridIndex: 1, position, min: R_MIN, max: R_MAX, minInterval: 1, maxInterval: 1,
    axisLine: { show: false },
    axisTick: { show: true, inside: true, length: 10, lineStyle: tickLine },
    minorTick: { show: true, splitNumber: 5, length: 5, lineStyle: tickLine },
    splitLine: { show: false }, minorSplitLine: { show: false },
    axisLabel: labels
      ? { show: true, showMinLabel: false, showMaxLabel: false, formatter: (v: number) => String(Math.round(v)), color: '#000', fontSize: 22, fontFamily: FONT, margin: 14 }
      : { show: false },
    name: labels ? 'ratio' : '', nameLocation: 'middle', nameGap: 54, nameRotate: 90,
    nameTextStyle: { color: '#000', fontSize: 22, fontFamily: FONT },
  };
}

function lineSeries(xi: number, yi: number, data: any[], color: string, width: number, extra: any = {}) {
  return {
    type: 'line', xAxisIndex: xi, yAxisIndex: yi, data, symbol: 'none', showSymbol: false,
    silent: true, clip: true, animation: false,
    lineStyle: { color, width, ...(extra.lineStyle || {}) },
    ...Object.fromEntries(Object.entries(extra).filter(([k]) => k !== 'lineStyle')),
  };
}

function crossSeries(xi: number, yi: number, data: any[], color: string, logY: boolean, width: number) {
  return {
    type: 'custom', xAxisIndex: xi, yAxisIndex: yi, data, silent: true, clip: true,
    encode: { x: 0, y: 1 }, renderItem: crossRenderer(color, width, logY), animation: false,
  };
}

const option = {
  animation: false,
  backgroundColor: '#ffffff',
  title: {
    text: titleText, left: 207, top: 7,
    textStyle: { fontSize: 22.5, fontWeight: 'normal', fontFamily: FONT, color: '#000' },
  },
  grid: [
    { left: 122, top: 63, width: 678, height: 313, show: true, borderColor: '#000', borderWidth: 1.5, backgroundColor: 'transparent' },
    { left: 122, top: 376, width: 678, height: 191, show: true, borderColor: '#000', borderWidth: 1.5, backgroundColor: 'transparent' },
  ],
  xAxis: [
    xLogAxis(0, 'bottom', false),
    xLogAxis(0, 'top', false),
    xLogAxis(1, 'bottom', true, 'Energy (keV)'),
  ],
  yAxis: [
    yLogAxis('left', true),
    yLogAxis('right', false),
    yRatioAxis('left', true),
    yRatioAxis('right', false),
  ],
  series: [
    // top panel: data
    crossSeries(0, 0, rows(xmmE, xmmFlux, xmmDE, xmmFluxErr), '#ff0000', true, 1.8),
    crossSeries(0, 0, rows(nuE, nuFlux, nuDE, nuFluxErr), '#0000ff', true, 2),
    crossSeries(0, 0, rows(nubE, nubFlux, nubDE, nubFluxErr), '#0000ff', true, 2),
    // top panel: models
    lineSeries(0, 0, pairs(cyanStepE, cyanStepF), '#00ffff', 4.5, { step: 'end' }),
    lineSeries(0, 0, pairs(cyanE, cyanF), '#00ffff', 5),
    lineSeries(0, 0, pairs(torusE, torusF), '#000000', 2.5, { smooth: 0.3 }),
    lineSeries(0, 0, pairs(fekE, fekF), '#000000', 2.5),
    lineSeries(0, 0, pairs(softE, softF), '#000000', 3, { lineStyle: { type: [4, 3] } }),
    lineSeries(0, 0, pairs(cyanE, cyanF), '#000000', 3, { lineStyle: { type: [0.5, 7.8], cap: 'round' } }),
    lineSeries(0, 0, pairs(reflE, reflF), '#000000', 3, { lineStyle: { type: [0.5, 9], cap: 'round' } }),
    lineSeries(0, 0, pairs(weakLineE, weakLineF), '#000000', 3, { lineStyle: { type: [0.5, 3], cap: 'round' } }),
    // ratio panel
    crossSeries(2, 2, rows(xmmE, xmmRatio, xmmDE, xmmRatioErr), '#ff0000', false, 1.8),
    crossSeries(2, 2, rows(nuE, nuRatio, nuDE, nuRatioErr), '#0000ff', false, 2),
    crossSeries(2, 2, rows(nubE, nubRatio, nubDE, nubRatioErr), '#0000ff', false, 2),
    lineSeries(2, 2, pairs(unityE, unityR), '#00ff00', 2),
  ],
};

export default function App() {
  const ref = useRef<HTMLDivElement>(null);
  useEffect(() => {
    if (!ref.current) return;
    const chart = echarts.init(ref.current, null, { renderer: 'svg' });
    chart.setOption(option as any);
    return () => chart.dispose();
  }, []);
  return (
    <div
      ref={ref}
      style={{ position: 'fixed', left: 0, top: 0, width: 803, height: 623, background: '#fff' }}
    />
  );
}
